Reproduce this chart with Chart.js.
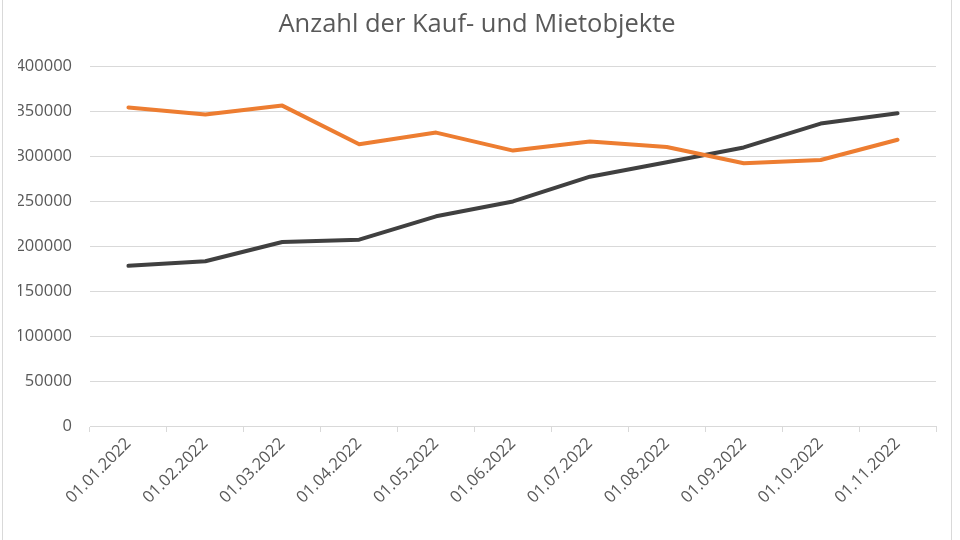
<!DOCTYPE html>
<html>
<head>
<meta charset="utf-8">
<script src="https://cdn.jsdelivr.net/npm/chart.js@4.4.0/dist/chart.umd.min.js"></script>
<style>
  html, body { margin: 0; padding: 0; background: #ffffff; }
  #wrap { width: 960px; height: 540px; position: relative; }
</style>
</head>
<body>
<div id="wrap"><canvas id="c" width="960" height="540"></canvas></div>
<script>
const categories = ["01.01.2022","01.02.2022","01.03.2022","01.04.2022","01.05.2022","01.06.2022","01.07.2022","01.08.2022","01.09.2022","01.10.2022","01.11.2022"];
const seriesOrange = [354000, 346000, 356000, 313000, 326000, 306000, 316000, 310000, 292000, 295500, 318000];
const seriesDark = [178000, 183000, 204500, 207000, 233000, 249500, 277000, 293000, 309500, 336000, 347500];
const titleText = "Anzahl der Kauf- und Mietobjekte";
const yMin = 0, yMax = 400000, yStep = 50000;

const frame = {
  id: 'frame',
  beforeDraw(chart) {
    const ctx = chart.ctx;
    ctx.save();
    ctx.fillStyle = '#ffffff';
    ctx.fillRect(0, 0, chart.width, chart.height);
    ctx.strokeStyle = '#d9d9d9';
    ctx.lineWidth = 1;
    ctx.beginPath();
    ctx.moveTo(2.5, 0); ctx.lineTo(2.5, chart.height);
    ctx.moveTo(951.5, 0); ctx.lineTo(951.5, chart.height);
    ctx.stroke();
    ctx.restore();
  }
};

new Chart(document.getElementById('c'), {
  type: 'line',
  data: {
    labels: categories,
    datasets: [
      { label: 'Mietobjekte', data: seriesOrange, borderColor: '#ED7D31', backgroundColor: '#ED7D31',
        borderWidth: 4, pointRadius: 0, tension: 0, borderCapStyle: 'round', borderJoinStyle: 'round' },
      { label: 'Kaufobjekte', data: seriesDark, borderColor: '#404040', backgroundColor: '#404040',
        borderWidth: 4, pointRadius: 0, tension: 0, borderCapStyle: 'round', borderJoinStyle: 'round' }
    ]
  },
  options: {
    responsive: false,
    animation: false,
    devicePixelRatio: 1,
    layout: { padding: { left: 18, right: 24, top: 0, bottom: 0 } },
    plugins: {
      legend: { display: false },
      tooltip: { enabled: false },
      title: {
        display: true,
        text: titleText,
        color: '#595959',
        font: { family: 'Open Sans', size: 25.5, weight: 'normal' },
        padding: { top: 9, bottom: 26.4 }
      }
    },
    scales: {
      x: {
        type: 'category',
        offset: true,
        grid: { display: true, drawOnChartArea: false, drawTicks: true, tickLength: 6, color: '#d9d9d9', offset: true },
        border: { display: true, color: '#d9d9d9', width: 1 },
        ticks: {
          color: '#595959',
          font: { family: 'Open Sans', size: 16.5 },
          minRotation: 45, maxRotation: 45,
          padding: 2,
          autoSkip: false
        },
        afterFit(scale) { scale.height = 114; }
      },
      y: {
        min: yMin, max: yMax,
        grid: { color: '#d9d9d9', drawTicks: false, lineWidth: 1 },
        border: { display: false },
        ticks: {
          stepSize: yStep,
          color: '#595959',
          font: { family: 'Open Sans', size: 16.5 },
          padding: 18,
          callback: v => String(v)
        },
        afterFit(scale) { scale.width = 72; }
      }
    }
  },
  plugins: [frame]
});
</script>
</body>
</html>
